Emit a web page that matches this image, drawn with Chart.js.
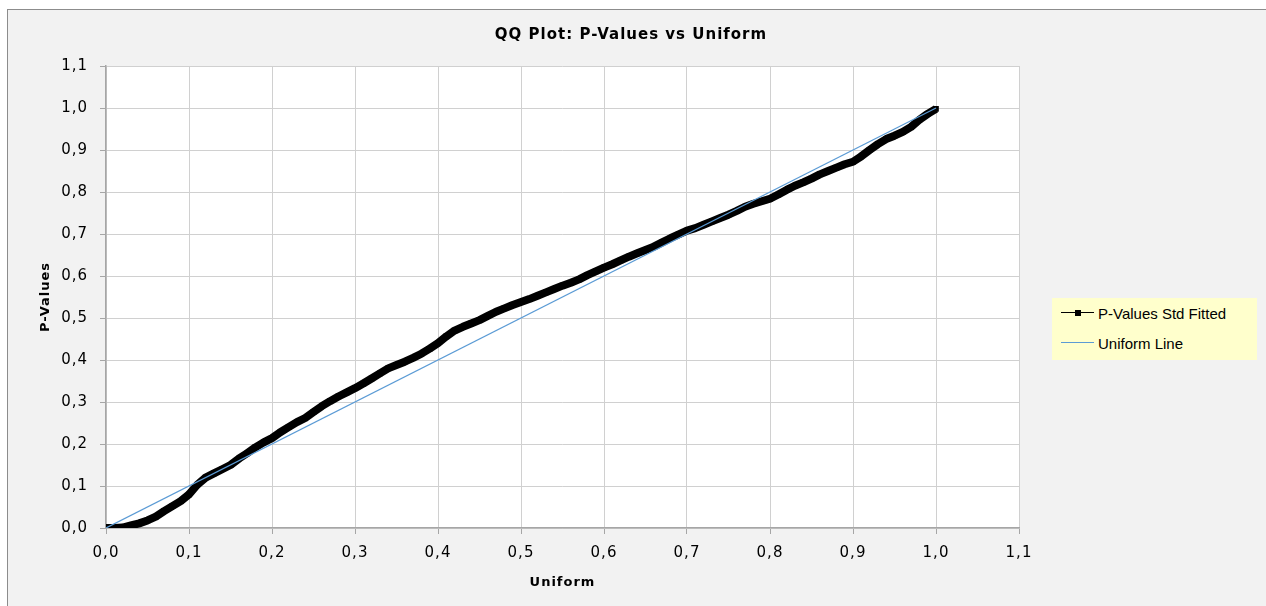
<!DOCTYPE html>
<html>
<head>
<meta charset="utf-8">
<script src="https://cdn.jsdelivr.net/npm/chart.js@4.4.1/dist/chart.umd.min.js"></script>
<style>
  html, body { margin: 0; padding: 0; background: #ffffff; overflow: hidden; }
  #frame {
    position: absolute; left: 7px; top: 9px; width: 1300px; height: 640px;
    background: #f2f2f2; border: 1px solid #8c8c8c;
  }
  #wrap { position: absolute; left: 0; top: 0; width: 1266px; height: 606px; }
  #legend {
    position: absolute; left: 1052px; top: 298px; width: 205px; height: 62px;
    background: #ffffcc; font-family: "Liberation Sans", Arial, sans-serif; font-size: 15px; color: #000;
  }
  .item { position: absolute; left: 9px; height: 18px; display: flex; align-items: center; }
  .sample { position: relative; width: 33px; height: 18px; margin-right: 4px; }
  .sample .ln { position: absolute; left: 0; right: 0; top: 8px; height: 1px; }
  .sample .mk { position: absolute; left: 14px; top: 6px; width: 6px; height: 6px; background: #000; }
</style>
</head>
<body>
<div id="frame"></div>
<div id="wrap"><canvas id="qq" width="1266" height="606"></canvas></div>
<div id="legend">
  <div class="item" style="top:6px"><div class="sample"><div class="ln" style="background:#000"></div><div class="mk"></div></div>P-Values Std Fitted</div>
  <div class="item" style="top:36px"><div class="sample"><div class="ln" style="background:#5b9bd5"></div></div>Uniform Line</div>
</div>
<script>
// uniform quantiles (x) and fitted p-values (y)
const uniformX = [0.00,0.01,0.02,0.03,0.04,0.05,0.06,0.07,0.08,0.09,
  0.10,0.11,0.12,0.13,0.14,0.15,0.16,0.17,0.18,0.19,
  0.20,0.21,0.22,0.23,0.24,0.25,0.26,0.27,0.28,0.29,
  0.30,0.31,0.32,0.33,0.34,0.35,0.36,0.37,0.38,0.39,
  0.40,0.41,0.42,0.43,0.44,0.45,0.46,0.47,0.48,0.49,
  0.50,0.51,0.52,0.53,0.54,0.55,0.56,0.57,0.58,0.59,
  0.60,0.61,0.62,0.63,0.64,0.65,0.66,0.67,0.68,0.69,
  0.70,0.71,0.72,0.73,0.74,0.75,0.76,0.77,0.78,0.79,
  0.80,0.81,0.82,0.83,0.84,0.85,0.86,0.87,0.88,0.89,
  0.90,0.91,0.92,0.93,0.94,0.95,0.96,0.97,0.98,0.99,1.00];
const pValues = [0.000,0.000,0.001,0.006,0.011,0.018,0.027,0.040,0.052,0.064,
  0.080,0.103,0.120,0.130,0.140,0.150,0.165,0.178,0.192,0.204,
  0.214,0.228,0.240,0.252,0.262,0.276,0.290,0.302,0.313,0.323,
  0.333,0.344,0.356,0.368,0.380,0.388,0.396,0.405,0.415,0.427,
  0.440,0.456,0.470,0.479,0.487,0.495,0.505,0.515,0.523,0.531,
  0.538,0.545,0.553,0.561,0.569,0.577,0.584,0.592,0.602,0.611,
  0.620,0.628,0.637,0.646,0.654,0.662,0.670,0.680,0.690,0.699,
  0.708,0.714,0.722,0.730,0.738,0.746,0.755,0.765,0.772,0.778,
  0.784,0.794,0.805,0.815,0.823,0.832,0.842,0.850,0.858,0.866,
  0.872,0.885,0.900,0.914,0.926,0.934,0.943,0.955,0.972,0.986,0.998];

// reference line
const lineX = [0, 1];
const lineY = [0, 1];

const tickValues = [0,0.1,0.2,0.3,0.4,0.5,0.6,0.7,0.8,0.9,1.0,1.1];

const chartTitle = 'QQ Plot: P-Values vs Uniform';

function fmt(v) { return Number(v).toFixed(1).replace('.', ','); }

// white plot area, wider glyphs, and a title centred on the whole chart
const decor = {
  id: 'decor',
  beforeDraw(chart) {
    const a = chart.chartArea, c = chart.ctx;
    c.letterSpacing = '1px';
    c.save();
    c.fillStyle = '#ffffff';
    c.fillRect(a.left, a.top, a.right - a.left, a.bottom - a.top);
    c.restore();
  },
  afterDraw(chart) {
    const c = chart.ctx;
    c.save();
    c.font = 'bold 15px "DejaVu Sans"';
    c.fillStyle = '#000';
    c.textAlign = 'center';
    c.textBaseline = 'middle';
    c.fillText(chartTitle, 631, 35);
    c.restore();
  }
};

function axis(titleText, isX) {
  return {
    type: 'linear',
    min: 0, max: 1.1,
    afterBuildTicks: s => { s.ticks = tickValues.map(v => ({ value: v })); },
    afterFit: s => { if (isX) s.height = 78; else s.width = 78; },
    grid: {
      color: '#d0d0d0', borderDash: [3, 2], lineWidth: 1,
      drawTicks: true, tickLength: 6, tickColor: '#a6a6a6', tickBorderDash: []
    },
    border: { display: true, color: '#a6a6a6', width: 1.5 },
    ticks: {
      callback: v => fmt(v),
      color: '#000',
      padding: isX ? 10 : 12,
      maxRotation: 0, autoSkip: false,
      font: { family: 'DejaVu Sans', size: 15 }
    },
    title: {
      display: true, text: titleText, color: '#000',
      font: { family: 'DejaVu Sans', size: 13, weight: 'bold' },
      padding: isX ? { top: 0, bottom: 16 } : { top: 10, bottom: 0 }
    }
  };
}

new Chart(document.getElementById('qq'), {
  type: 'scatter',
  data: {
    datasets: [
      {
        label: 'Uniform Line',
        data: lineX.map((x, i) => ({ x: x, y: lineY[i] })),
        showLine: true,
        borderColor: '#5b9bd5',
        borderWidth: 1.2,
        pointRadius: 0,
        order: 0
      },
      {
        label: 'P-Values Std Fitted',
        data: uniformX.map((x, i) => ({ x: x, y: pValues[i] })),
        showLine: true,
        borderColor: '#000000',
        backgroundColor: '#000000',
        borderWidth: 8,
        borderJoinStyle: 'round',
        pointStyle: 'rect',
        pointRadius: 4,
        pointBorderWidth: 0,
        order: 1
      }
    ]
  },
  options: {
    responsive: false,
    animation: false,
    layout: { padding: { left: 28, right: 247, top: 66, bottom: 0 } },
    plugins: {
      legend: { display: false },
      tooltip: { enabled: false },
      title: { display: false }
    },
    scales: {
      x: axis('Uniform', true),
      y: axis('P-Values', false)
    }
  },
  plugins: [decor]
});
</script>
</body>
</html>
